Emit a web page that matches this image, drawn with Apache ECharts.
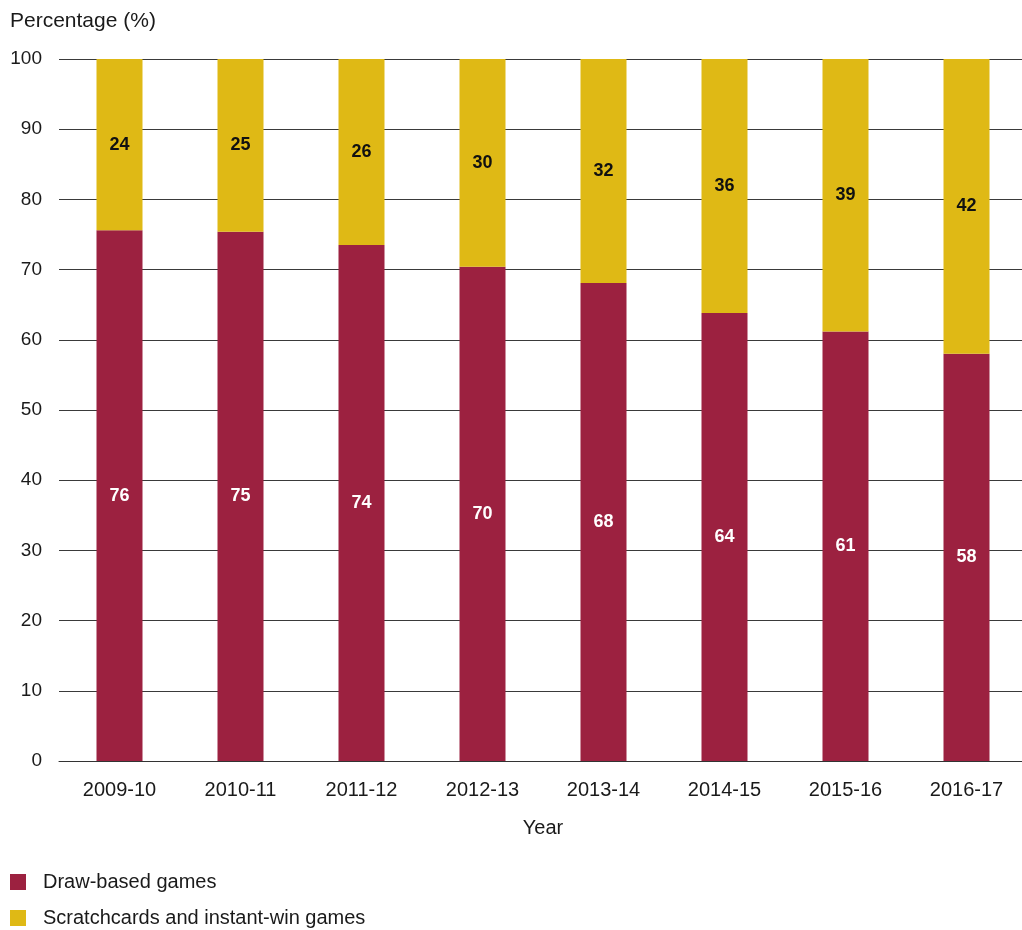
<!DOCTYPE html>
<html>
<head>
<meta charset="utf-8">
<script src="https://cdn.jsdelivr.net/npm/echarts@6/dist/echarts.min.js"></script>
<style>
  html, body {margin: 0; padding: 0; background: #fff;}
  #main {width: 1022px; height: 930px;}
</style>
</head>
<body>
<div id="main"></div>
<script>
  // years on the x axis
  const years = ['2009-10', '2010-11', '2011-12', '2012-13', '2013-14', '2014-15', '2015-16', '2016-17'];
  // bar heights as drawn (percent)
  const drawBased = [75.6, 75.4, 73.5, 70.4, 68.1, 63.8, 61.2, 58.0];
  const scratchcards = [24.4, 24.6, 26.5, 29.6, 31.9, 36.2, 38.8, 42.0];
  // printed (rounded) labels
  const drawLabels = [76, 75, 74, 70, 68, 64, 61, 58];
  const scratchLabels = [24, 25, 26, 30, 32, 36, 39, 42];
  const yTicks = [0, 10, 20, 30, 40, 50, 60, 70, 80, 90, 100];

  const font = 'Liberation Sans, Arial, Helvetica, sans-serif';
  const txt = '#1a1a1a';
  const chart = echarts.init(document.getElementById('main'));

  // one legend per row so the two rows sit where they do in the original
  const legendRow = (name, top) => ({
    orient: 'vertical',
    left: 5, top: top,
    itemWidth: 16, itemHeight: 16,
    icon: 'rect',
    textStyle: {fontFamily: font, fontSize: 20, color: txt, padding: [0, 0, 0, 12]},
    data: [name]
  });

  chart.setOption({
    animation: false,
    title: {
      text: 'Percentage (%)',
      left: 5, top: 6,
      textStyle: {fontFamily: font, fontSize: 21, fontWeight: 'normal', color: txt}
    },
    grid: {left: 59, top: 59, right: -5, bottom: 169, outerBoundsMode: 'none'},
    legend: [
      legendRow('Draw-based games', 867),
      legendRow('Scratchcards and instant-win games', 903)
    ],
    xAxis: {
      type: 'category',
      data: years,
      name: 'Year',
      nameLocation: 'middle',
      nameGap: 57,
      nameTextStyle: {fontFamily: font, fontSize: 20, color: txt},
      axisLine: {lineStyle: {color: '#333', width: 1}},
      axisTick: {show: false},
      axisLabel: {fontFamily: font, fontSize: 20, color: txt, margin: 19}
    },
    yAxis: {
      type: 'value',
      min: yTicks[0], max: yTicks[yTicks.length - 1], interval: 10,
      axisLine: {show: false},
      axisTick: {show: false},
      axisLabel: {fontFamily: font, fontSize: 19, color: txt, margin: 17},
      splitLine: {lineStyle: {color: '#3a3a3a', width: 1}}
    },
    series: [
      {
        name: 'Draw-based games',
        type: 'bar',
        stack: 'share',
        barWidth: 46,
        data: drawBased,
        itemStyle: {color: '#9c2140'},
        label: {
          show: true, position: 'inside',
          fontFamily: font, fontSize: 18, fontWeight: 'bold', color: '#fff',
          formatter: p => drawLabels[p.dataIndex]
        }
      },
      {
        name: 'Scratchcards and instant-win games',
        type: 'bar',
        stack: 'share',
        barWidth: 46,
        data: scratchcards,
        itemStyle: {color: '#dfb915'},
        label: {
          show: true, position: 'inside',
          fontFamily: font, fontSize: 18, fontWeight: 'bold', color: '#111',
          formatter: p => scratchLabels[p.dataIndex]
        }
      }
    ]
  });
</script>
</body>
</html>
